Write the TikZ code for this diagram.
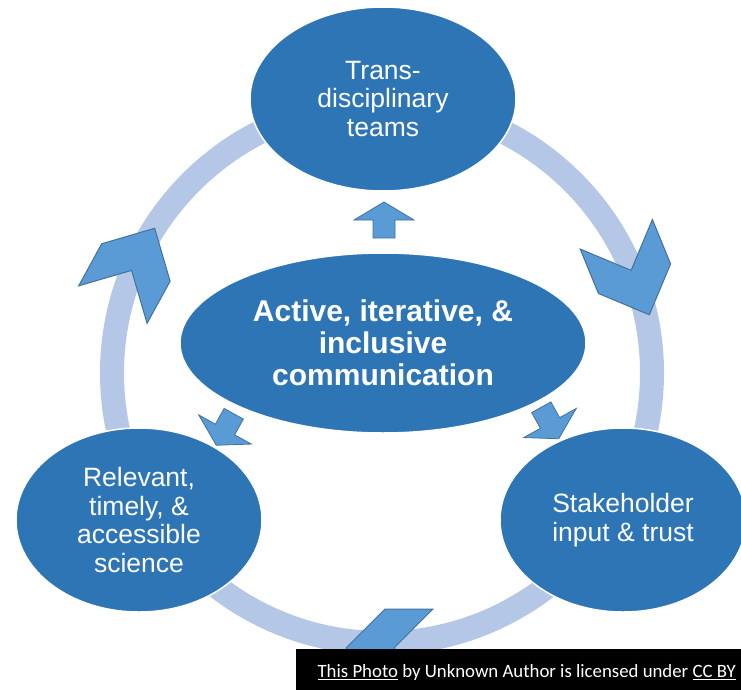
\documentclass[tikz,border=0pt]{standalone}
\usepackage{fontspec}
\setmainfont{Liberation Sans}
\newfontfamily\capfont{Carlito}
\usetikzlibrary{shapes.geometric}
\definecolor{darkblue}{RGB}{46,117,182}
\definecolor{ringblue}{RGB}{180,199,231}
\definecolor{arrblue}{RGB}{91,155,213}
\definecolor{arredge}{RGB}{65,113,156}
\newcommand{\capul}[1]{\setbox0\hbox{#1}\rlap{\rule[-3pt]{\wd0}{1.4pt}}\box0\relax}
\tikzset{
  bubble/.style={ellipse,fill=darkblue,draw=white,line width=1.5pt,text=white,
    align=center,inner sep=0pt,font=\fontsize{26.5}{28.5}\selectfont},
  chev/.style={fill=arrblue,draw=arredge,line width=1pt},
  blockarr/.style={fill=arrblue,draw=arredge,line width=0.8pt},
}
\begin{document}
\begin{tikzpicture}[x=1pt,y=-1pt]
    \useasboundingbox (0,0) rectangle (741,690);
    \draw[ringblue,line width=24pt] (382,373) circle (270pt);
    % chevrons on the ring
    \draw[chev,shift={(134,266)},rotate=61.3] (43,0)--(4,39)--(-44,39)--(-5,0)--(-44,-39)--(4,-39)--cycle;
    \draw[chev,shift={(633,275)},rotate=-67.7] (43,0)--(4,39)--(-44,39)--(-5,0)--(-44,-39)--(4,-39)--cycle;
    \draw[chev,shift={(389,648)},rotate=180] (43,0)--(4,39)--(-44,39)--(-5,0)--(-44,-39)--(4,-39)--cycle;
    \node[bubble,minimum width=266pt,minimum height=184pt] (team) at (383,99) {Trans-\\disciplinary\\teams};
    \node[bubble,minimum width=246pt,minimum height=184pt] (sci) at (139,520) {Relevant,\\timely, \&\\accessible\\science};
    \node[bubble,minimum width=246pt,minimum height=184pt] (stake) at (623,520) {Stakeholder\\input \& trust};
    \node[bubble,minimum width=406pt,minimum height=180pt,font=\bfseries\fontsize{30}{32}\selectfont] (comm) at (383,343) {Active, iterative, \&\\inclusive\\communication};
    \draw[blockarr,shift={(384,220)},rotate=90] (-18,-11)--(0,-11)--(0,-30)--(18,0)--(0,30)--(0,11)--(-18,11)--cycle;
    \draw[blockarr,shift={(225,429.5)},rotate=241] (-18,-11)--(0,-11)--(0,-30)--(18,0)--(0,30)--(0,11)--(-18,11)--cycle;
    \draw[blockarr,shift={(550,423)},rotate=299] (-18,-11)--(0,-11)--(0,-30)--(18,0)--(0,30)--(0,11)--(-18,11)--cycle;
    \fill[black] (296,649) rectangle (741,690);
    \node[anchor=base east,text=white,inner sep=0pt,font=\capfont\fontsize{18.8}{20}\selectfont] (credit) at (736,677) {\capul{This Photo} by Unknown Author is licensed under \capul{CC BY}};
\end{tikzpicture}
\end{document}
